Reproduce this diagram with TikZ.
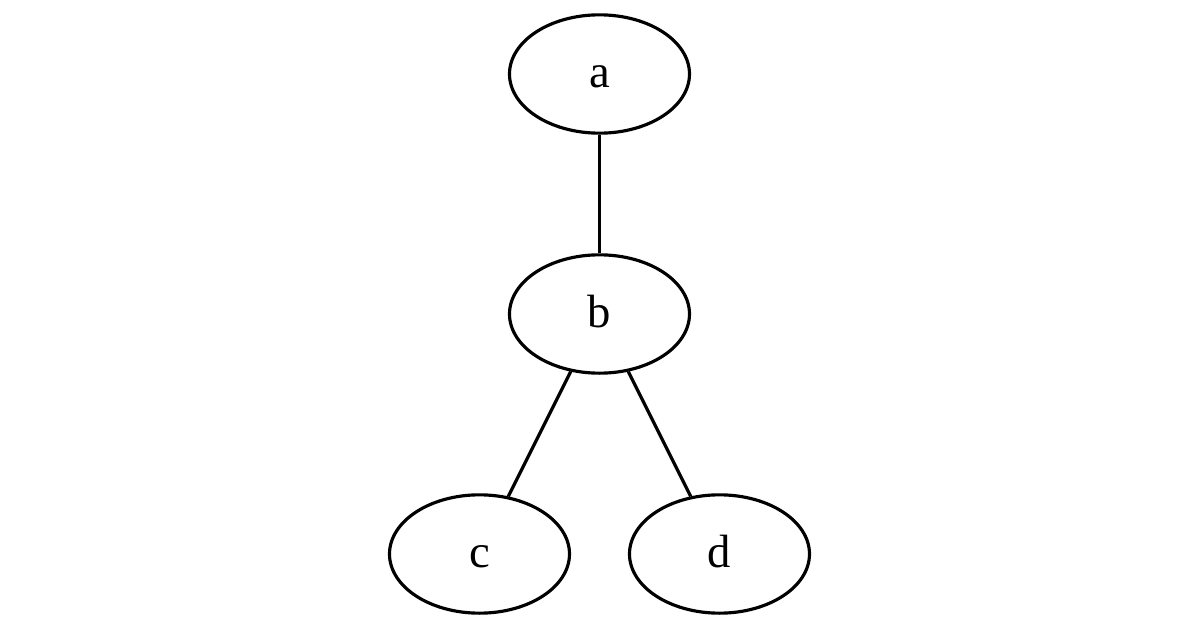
\documentclass[tikz,border=0pt]{standalone}
\usepackage{fontspec}
\setmainfont{Liberation Serif}
\usetikzlibrary{shapes.geometric}

\begin{document}
\begin{tikzpicture}[x=1pt,y=1pt,line width=0.95pt,
		vertex/.style={draw,ellipse,minimum width=54pt,minimum height=35.5pt,inner sep=0pt,text height=9.8pt,text depth=2pt,font=\fontsize{14}{16}\selectfont}]
		\useasboundingbox (0,0) rectangle (360,188.1);
		\node[vertex] (a) at (179.85,165.9) {a};
		\node[vertex] (b) at (179.85,93.9) {b};
		\node[vertex] (c) at (143.85,21.9) {c};
		\node[vertex] (d) at (215.85,21.9) {d};
		\draw (a) -- (b);
		\draw (b) -- (c);
		\draw (b) -- (d);
	\end{tikzpicture}
\end{document}
